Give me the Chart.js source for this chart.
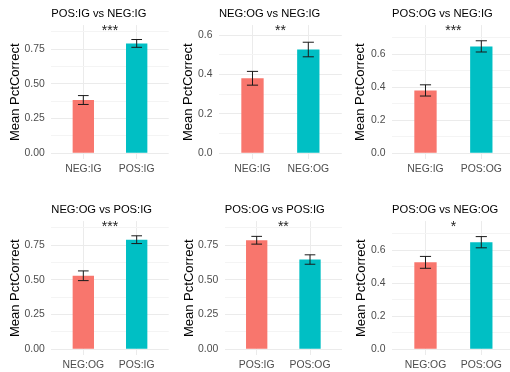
<!DOCTYPE html>
<html>
<head>
<meta charset="utf-8">
<script src="https://cdn.jsdelivr.net/npm/chart.js@4.4.0/dist/chart.umd.min.js"></script>
<style>
  html, body { margin: 0; padding: 0; background: #fff; width: 510px; height: 372px; overflow: hidden; }
  #root { position: relative; width: 510px; height: 372px; overflow: hidden; }
  canvas { position: absolute; }
</style>
</head>
<body>
<div id="root"></div>
<script>
// data
const titles = ['POS:IG vs NEG:IG', 'NEG:OG vs NEG:IG', 'POS:OG vs NEG:IG',
                'NEG:OG vs POS:IG', 'POS:OG vs POS:IG', 'POS:OG vs NEG:OG'];
const categories = [['NEG:IG', 'POS:IG'], ['NEG:IG', 'NEG:OG'], ['NEG:IG', 'POS:OG'],
                    ['NEG:OG', 'POS:IG'], ['POS:IG', 'POS:OG'], ['NEG:OG', 'POS:OG']];
const means = [[0.384, 0.792], [0.381, 0.527], [0.381, 0.648],
               [0.530, 0.790], [0.786, 0.647], [0.527, 0.649]];
const stdErr = [[0.032, 0.028], [0.035, 0.037], [0.034, 0.034],
                [0.035, 0.028], [0.028, 0.034], [0.036, 0.034]];
const stars = ['***', '**', '***', '***', '**', '*'];
const starY = [0.88, 0.62, 0.74, 0.88, 0.88, 0.74];

const ticksA = [0, 0.25, 0.5, 0.75];
const tickLabelsA = ['0.00', '0.25', '0.50', '0.75'];
const ticksB = [0, 0.2, 0.4, 0.6];
const tickLabelsB = ['0.0', '0.2', '0.4', '0.6'];
const panelTicks = ['A', 'B', 'B', 'A', 'A', 'B'];

const yTitle = 'Mean PctCorrect';
const barColors = ['#F8766D', '#00BFC4'];

// layout (pixels)
const W = 178, H = 195;
const colLeft = [0, 170, 340, 0, 170, 340];
const rowTop = [0, 0, 0, 195.5, 195.5, 195.5];
const plotLeft = [51.3, 49, 52, 51.3, 54.7, 52];
const plotRight = [168.7, 171.8, 174.8, 168.7, 172, 174.8];
const plotBottom = 159.4;
const yTitleX = [15.5, 18.3, 20.5, 15.5, 19.5, 21];

const FONT = "'Liberation Sans', Arial, sans-serif";
const root = document.getElementById('root');

function makePanel(i) {
  const canvas = document.createElement('canvas');
  canvas.width = W;
  canvas.height = H;
  canvas.style.left = colLeft[i] + 'px';
  canvas.style.top = rowTop[i] + 'px';
  root.appendChild(canvas);

  const major = panelTicks[i] === 'A' ? ticksA : ticksB;
  const majorLabels = panelTicks[i] === 'A' ? tickLabelsA : tickLabelsB;
  const yMax = starY[i] * 1.05;
  const yMin = -starY[i] * 0.05;
  const step = major[1] - major[0];

  // major + minor gridlines like ggplot
  const allTicks = [];
  major.forEach((v, k) => {
    allTicks.push({ value: v, label: majorLabels[k], major: true });
    if (v + step / 2 <= yMax) allTicks.push({ value: v + step / 2, label: '', major: false });
  });

  const extras = {
    id: 'extras' + i,
    afterDatasetsDraw(chart) {
      const ctx = chart.ctx;
      const xs = chart.scales.x, ys = chart.scales.y;
      const half = xs.getPixelForValue(1.1) - xs.getPixelForValue(1);
      ctx.save();
      ctx.strokeStyle = '#1a1a1a';
      ctx.lineWidth = 1;
      means[i].forEach((m, k) => {
        const x = xs.getPixelForValue(k + 1);
        const yt = ys.getPixelForValue(m + stdErr[i][k]);
        const yb = ys.getPixelForValue(m - stdErr[i][k]);
        ctx.beginPath();
        ctx.moveTo(x, yt); ctx.lineTo(x, yb);
        ctx.moveTo(x - half, yt); ctx.lineTo(x + half, yt);
        ctx.moveTo(x - half, yb); ctx.lineTo(x + half, yb);
        ctx.stroke();
      });
      ctx.fillStyle = '#222';
      ctx.font = '14px ' + FONT;
      ctx.textAlign = 'center';
      ctx.textBaseline = 'middle';
      ctx.fillText(stars[i], xs.getPixelForValue(1.5), ys.getPixelForValue(starY[i]));
      ctx.restore();
    }
  };

  new Chart(canvas, {
    type: 'bar',
    data: {
      datasets: [{
        data: categories[i].map((c, k) => ({ x: k + 1, y: means[i][k] })),
        backgroundColor: barColors,
        borderWidth: 0,
        categoryPercentage: 1,
        barPercentage: 0.4
      }]
    },
    options: {
      responsive: false,
      animation: false,
      devicePixelRatio: 1,
      layout: { padding: { left: 0, right: W - plotRight[i], top: 0, bottom: 0 } },
      plugins: {
        legend: { display: false },
        tooltip: { enabled: false },
        title: {
          display: true, text: titles[i], align: 'start', fullSize: false,
          color: '#000', font: { family: FONT, size: 11.2, weight: 'normal' },
          padding: { top: 7.6, bottom: 4.06 }
        }
      },
      scales: {
        x: {
          type: 'linear', min: 0.4, max: 2.6, bounds: 'data', offset: false,
          afterBuildTicks: s => { s.ticks = [{ value: 1 }, { value: 2 }]; },
          afterFit: s => { s.height = H - plotBottom; },
          ticks: {
            callback: v => categories[i][v - 1],
            color: '#4d4d4d', font: { family: FONT, size: 10.4 },
            padding: 3.5, autoSkip: false, maxRotation: 0
          },
          grid: { color: '#ebebeb', lineWidth: 1, drawTicks: false, offset: false },
          border: { display: false }
        },
        y: {
          min: yMin, max: yMax, bounds: 'data',
          afterBuildTicks: s => { s.ticks = allTicks.map(t => ({ value: t.value })); },
          afterFit: s => { s.width = plotLeft[i]; },
          ticks: {
            callback: (v, idx) => allTicks[idx].label,
            color: '#4d4d4d', font: { family: FONT, size: 10.4 },
            padding: 6.5, autoSkip: false
          },
          grid: {
            color: c => (allTicks[c.index] && allTicks[c.index].major) ? '#ebebeb' : '#f4f4f4',
            lineWidth: 1, drawTicks: false
          },
          border: { display: false },
          title: {
            display: true, text: yTitle, color: '#000',
            font: { family: FONT, size: 13 },
            padding: { top: yTitleX[i] - 7.8, bottom: 0 }
          }
        }
      }
    },
    plugins: [extras]
  });
}

for (let i = 0; i < 6; i++) makePanel(i);
</script>
</body>
</html>
